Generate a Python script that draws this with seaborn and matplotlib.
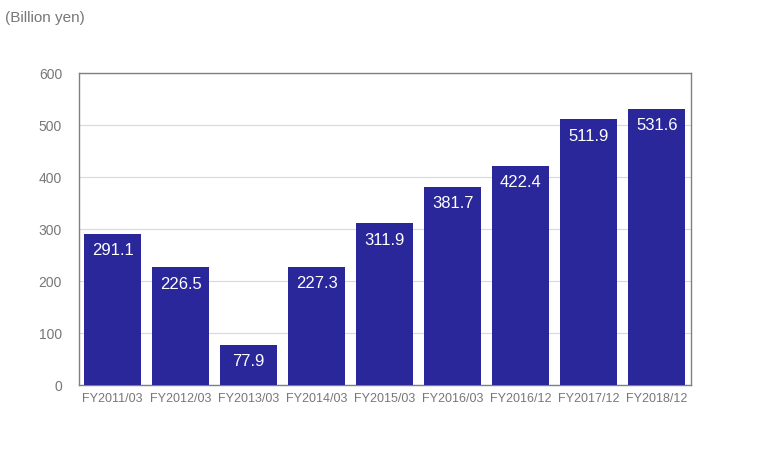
import matplotlib
matplotlib.use("Agg")
import matplotlib.pyplot as plt
import seaborn as sns
import pandas as pd

# 데이터
periods = ["FY2011/03", "FY2012/03", "FY2013/03", "FY2014/03", "FY2015/03",
           "FY2016/03", "FY2016/12", "FY2017/12", "FY2018/12"]
values = [291.1, 226.5, 77.9, 227.3, 311.9, 381.7, 422.4, 511.9, 531.6]
df = pd.DataFrame({"period": periods, "value": values})

sns.set_style("white")
plt.rcParams["font.family"] = ["Liberation Sans", "DejaVu Sans"]

fig = plt.figure(figsize=(7.57, 4.53), dpi=100)
ax = fig.add_axes([0.104, 0.150, 0.8084, 0.688])

sns.barplot(data=df, x="period", y="value", color="#2a279a", saturation=1,
            width=0.84, linewidth=0, ax=ax, zorder=3)

ax.set_ylim(0, 600)
ax.set_yticks(range(0, 601, 100))
ax.yaxis.grid(True, color="#d9d9d9", linewidth=0.8, zorder=0)
ax.set_axisbelow(True)
for s in ax.spines.values():
    s.set_color("#808080")
    s.set_linewidth(1)
ax.tick_params(axis="x", colors="#777777", labelsize=9, length=0, pad=6)
ax.tick_params(axis="y", colors="#777777", labelsize=10, length=0, pad=12)
ax.set_xlabel("")
ax.set_ylabel("")

# 막대 안쪽 라벨
for p, v in zip(ax.patches, values):
    ax.annotate(f"{v:.1f}", (p.get_x() + p.get_width() / 2, v),
                xytext=(0, -17), textcoords="offset pixels",
                ha="center", va="center", color="white", fontsize=12, zorder=4)

fig.text(5 / 757, 1 - 18 / 453, "(Billion yen)", color="#777777", fontsize=11,
         ha="left", va="center")

fig.savefig("out.png", dpi=100)
